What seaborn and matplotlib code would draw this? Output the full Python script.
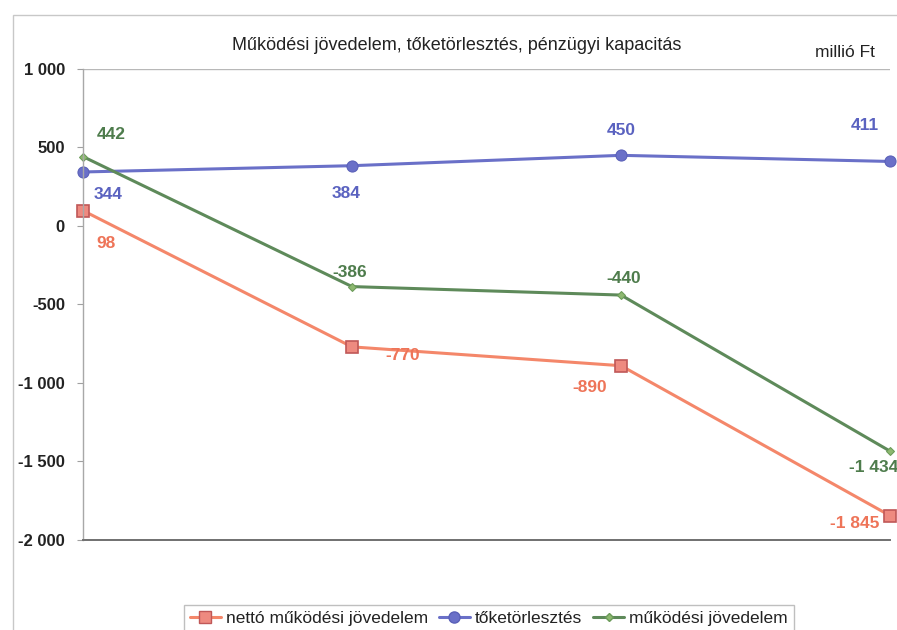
import matplotlib
matplotlib.use("Agg")
import matplotlib.pyplot as plt
from matplotlib.patches import Rectangle
from matplotlib.lines import Line2D
from matplotlib import font_manager
import seaborn as sns
import pandas as pd

# Periods along the x axis (unlabelled in the chart)
periods = [0, 1, 2, 3]
netto_mukodesi = [98, -770, -890, -1845]
toketorlesztes = [344, 384, 450, 411]
mukodesi = [442, -386, -440, -1434]

series_names = ["nettó működési jövedelem", "tőketörlesztés", "működési jövedelem"]
y_ticks = [1000, 500, 0, -500, -1000, -1500, -2000]
y_tick_labels = ["1 000", "500", "0", "-500", "-1 000", "-1 500", "-2 000"]

sns.set_theme(style="white")
installed = {f.name for f in font_manager.fontManager.ttflist}
narrow = "Liberation Sans Narrow" if "Liberation Sans Narrow" in installed else "Liberation Sans"
plt.rcParams["font.family"] = [narrow, "DejaVu Sans"]

df = pd.DataFrame({
    "period": periods * 3,
    "value": netto_mukodesi + toketorlesztes + mukodesi,
    "series": [series_names[0]] * 4 + [series_names[1]] * 4 + [series_names[2]] * 4,
})

line_colors = {series_names[0]: "#F4876A", series_names[1]: "#6A70C8", series_names[2]: "#5E8A5A"}
label_colors = {series_names[0]: "#EE7458", series_names[1]: "#5A62C0", series_names[2]: "#4E7C4C"}

fig = plt.figure(figsize=(8.97, 6.30), dpi=100)
ax = fig.add_axes([0.0925, 0.1429, 0.8997, 0.7476])

sns.lineplot(data=df, x="period", y="value", hue="series", style="series",
             palette=line_colors, markers={series_names[0]: "s", series_names[1]: "o", series_names[2]: "D"},
             dashes=False, linewidth=2.2, ax=ax, legend=False)

# marker styling per series
for line, name in zip(ax.get_lines(), series_names):
    line.set_clip_on(False)
    if name == series_names[0]:
        line.set_markersize(8)
        line.set_markerfacecolor("#EE8A80")
        line.set_markeredgecolor("#C05858")
        line.set_markeredgewidth(1.2)
    elif name == series_names[1]:
        line.set_markersize(8)
        line.set_markerfacecolor("#6A70C8")
        line.set_markeredgecolor("#5A60B8")
    else:
        line.set_markersize(4.5)
        line.set_markerfacecolor("#8DB870")
        line.set_markeredgecolor("#6A9A58")

ax.set_xlim(0, 3)
ax.set_ylim(-2000, 1000)
ax.set_yticks(y_ticks)
ax.set_yticklabels(y_tick_labels)
ax.set_xticks([])
ax.set_xlabel("")
ax.set_ylabel("")
ax.tick_params(axis="y", length=4, width=0.8, color="#A0A0A0", labelsize=12, pad=9,
               labelcolor="#222222", left=True)
for lab in ax.get_yticklabels():
    lab.set_fontweight("bold")

ax.axhline(1000, color="#B8B8B8", lw=1.0)
for side in ["right", "top"]:
    ax.spines[side].set_visible(False)
ax.spines["left"].set_color("#A8A8A8")
ax.spines["left"].set_linewidth(1.0)
ax.spines["bottom"].set_color("#707070")
ax.spines["bottom"].set_linewidth(1.4)

# data value labels
def fmt(v):
    s = f"{abs(v):,}".replace(",", " ")
    return ("-" if v < 0 else "") + s

offsets = {
    series_names[0]: [(10, -24, "left"), (24, -6, "left"), (-10, -16, "right"), (-8, -6, "right")],
    series_names[1]: [(8, -16, "left"), (-4, -20, "center"), (0, 18, "center"), (-18, 26, "center")],
    series_names[2]: [(10, 16, "left"), (-2, 10, "center"), (2, 12, "center"), (-12, -12, "center")],
}
values = {series_names[0]: netto_mukodesi, series_names[1]: toketorlesztes, series_names[2]: mukodesi}
for name in series_names:
    for x, v, (dx, dy, ha) in zip(periods, values[name], offsets[name]):
        ax.annotate(fmt(v), (x, v), xytext=(dx, dy), textcoords="offset points",
                    ha=ha, va="center", fontsize=12.5, fontweight="bold",
                    color=label_colors[name], annotation_clip=False)

fig.text(0.509, 0.928, "Működési jövedelem, tőketörlesztés, pénzügyi kapacitás",
         ha="center", va="center", fontsize=13, color="#222222")
fig.text(0.942, 0.917, "millió Ft", ha="center", va="center", fontsize=12.5,
         color="#222222")

# chart frame
fig.patches.append(Rectangle((0.014, -0.01), 0.99, 0.986, transform=fig.transFigure,
                             fill=False, edgecolor="#C8C8C8", lw=1.0))

handles = [
    Line2D([], [], color="#F4876A", lw=2.2, marker="s", markersize=8,
           markerfacecolor="#EE8A80", markeredgecolor="#C05858"),
    Line2D([], [], color="#6A70C8", lw=2.2, marker="o", markersize=8,
           markerfacecolor="#6A70C8", markeredgecolor="#5A60B8"),
    Line2D([], [], color="#5E8A5A", lw=2.2, marker="D", markersize=4.5,
           markerfacecolor="#8DB870", markeredgecolor="#6A9A58"),
]
leg = fig.legend(handles, series_names, loc="center", bbox_to_anchor=(0.545, 0.018), ncol=3,
                 frameon=True, fancybox=False, fontsize=12.5, handlelength=1.8,
                 handletextpad=0.3, columnspacing=0.6, borderpad=0.35)
leg.get_frame().set_edgecolor("#B0B0B0")
leg.get_frame().set_linewidth(1.0)
for t in leg.get_texts():
    t.set_color("#222222")

fig.savefig("out.png", dpi=100)
